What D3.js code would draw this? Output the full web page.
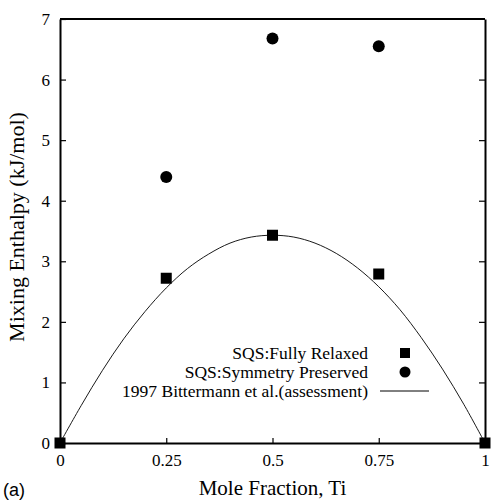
<!DOCTYPE html>
<html>
<head>
<meta charset="utf-8">
<script src="https://cdn.jsdelivr.net/npm/d3@7"></script>
<style>
  body { margin: 0; background: #fff; }
  svg { display: block; }
</style>
</head>
<body>
<div id="chart"></div>
<script>
// values
var relaxedX = [0, 0.25, 0.5, 0.75, 1];
var relaxedY = [0, 2.72, 3.43, 2.79, 0];

var symX = [0.25, 0.5, 0.75];
var symY = [4.39, 6.68, 6.55];

// assessment curve, sampled by eye
var curveX = [0, 0.05, 0.1, 0.15, 0.2, 0.25, 0.3, 0.35, 0.4, 0.45, 0.5, 0.55, 0.6, 0.65, 0.7, 0.75, 0.8, 0.85, 0.9, 0.95, 1];
var curveY = [0, 0.62, 1.2, 1.72, 2.17, 2.56, 2.88, 3.12, 3.3, 3.4, 3.43, 3.4, 3.3, 3.13, 2.89, 2.58, 2.2, 1.74, 1.22, 0.64, 0];

var xTicks = [0, 0.25, 0.5, 0.75, 1];
var xTickLabels = ["0", "0.25", "0.5", "0.75", "1"];
var yTicks = [0, 1, 2, 3, 4, 5, 6, 7];

var legendLabels = ["SQS:Fully Relaxed", "SQS:Symmetry Preserved", "1997 Bittermann et al.(assessment)"];

var serif = "'Liberation Serif', 'Times New Roman', serif";

var svgwidth = 491, svgheight = 500;
var margin = {top: 19, right: 6, bottom: 57, left: 60},
    width = svgwidth - margin.left - margin.right,
    height = svgheight - margin.top - margin.bottom;

var svg = d3.select("#chart").append("svg")
    .attr("width", svgwidth)
    .attr("height", svgheight)
  .append("g")
    .attr("transform", "translate(" + margin.left + "," + margin.top + ")");

var x = d3.scaleLinear().domain([0, 1]).range([0, width]);
var y = d3.scaleLinear().domain([0, 7]).range([height, 0]);

var xAxis = d3.axisBottom(x).tickValues(xTicks)
    .tickFormat(function(d, i) { return xTickLabels[i]; })
    .tickSizeInner(-5).tickSizeOuter(0).tickPadding(11);
var yAxis = d3.axisLeft(y).tickValues(yTicks)
    .tickFormat(d3.format("d"))
    .tickSizeInner(-6).tickSizeOuter(0).tickPadding(10);
var yAxisRight = d3.axisRight(y).tickValues(yTicks.slice(1, -1))
    .tickSizeInner(-6).tickSizeOuter(0).tickFormat("");

svg.append("g")
    .attr("class", "x axis")
    .attr("transform", "translate(0," + height + ")")
    .call(xAxis);

svg.append("g")
    .attr("class", "y axis")
    .call(yAxis);

svg.append("g")
    .attr("class", "y axis right")
    .attr("transform", "translate(" + width + ",0)")
    .call(yAxisRight);

svg.selectAll(".axis").attr("font-family", serif).attr("font-size", 17);
svg.selectAll(".axis path").attr("stroke", "#000").attr("stroke-width", 2);
svg.selectAll(".axis line").attr("stroke", "#000").attr("stroke-width", 1.2);
svg.selectAll(".axis text").attr("fill", "#000");

// top border
svg.append("line")
    .attr("x1", 0).attr("x2", width)
    .attr("y1", 0).attr("y2", 0)
    .attr("stroke", "#000").attr("stroke-width", 2);

// assessment curve
var curveData = curveX.map(function(v, i) { return {x: v, y: curveY[i]}; });
var line = d3.line()
    .x(function(d) { return x(d.x); })
    .y(function(d) { return y(d.y); })
    .curve(d3.curveCatmullRom);

svg.append("path")
    .datum(curveData)
    .attr("d", line)
    .attr("fill", "none")
    .attr("stroke", "#000")
    .attr("stroke-width", 0.9);

var sq = 11;
svg.selectAll(".relaxed")
    .data(relaxedX.map(function(v, i) { return {x: v, y: relaxedY[i]}; }))
  .enter().append("rect")
    .attr("class", "relaxed")
    .attr("x", function(d) { return x(d.x) - sq / 2; })
    .attr("y", function(d) { return y(d.y) - sq / 2; })
    .attr("width", sq)
    .attr("height", sq)
    .attr("fill", "#000");

svg.selectAll(".sym")
    .data(symX.map(function(v, i) { return {x: v, y: symY[i]}; }))
  .enter().append("circle")
    .attr("class", "sym")
    .attr("cx", function(d) { return x(d.x); })
    .attr("cy", function(d) { return y(d.y); })
    .attr("r", 6)
    .attr("fill", "#000");

// legend
var legend = svg.append("g").attr("transform", "translate(308,334)");
legend.selectAll("text")
    .data(legendLabels)
  .enter().append("text")
    .attr("x", 0)
    .attr("y", function(d, i) { return i * 19; })
    .attr("dy", "0.35em")
    .attr("text-anchor", "end")
    .style("font-family", serif)
    .style("font-size", "17.5px")
    .text(function(d) { return d; });

legend.append("rect")
    .attr("x", 37 - 5).attr("y", -5)
    .attr("width", 10).attr("height", 10)
    .attr("fill", "#000");
legend.append("circle")
    .attr("cx", 37).attr("cy", 19)
    .attr("r", 5.5)
    .attr("fill", "#000");
legend.append("line")
    .attr("x1", 12).attr("x2", 61)
    .attr("y1", 38).attr("y2", 38)
    .attr("stroke", "#000").attr("stroke-width", 1);

// axis titles
svg.append("text")
    .attr("x", width / 2)
    .attr("y", height + 52)
    .attr("text-anchor", "middle")
    .style("font-family", serif)
    .style("font-size", "21px")
    .text("Mole Fraction, Ti");

svg.append("text")
    .attr("transform", "rotate(-90)")
    .attr("x", -height / 2 + 4)
    .attr("y", -36)
    .attr("text-anchor", "middle")
    .style("font-family", serif)
    .style("font-size", "22px")
    .text("Mixing Enthalpy (kJ/mol)");

svg.append("text")
    .attr("x", -57)
    .attr("y", height + 53)
    .style("font-family", "'Liberation Sans', Arial, sans-serif")
    .style("font-size", "18px")
    .text("(a)");
</script>
</body>
</html>
